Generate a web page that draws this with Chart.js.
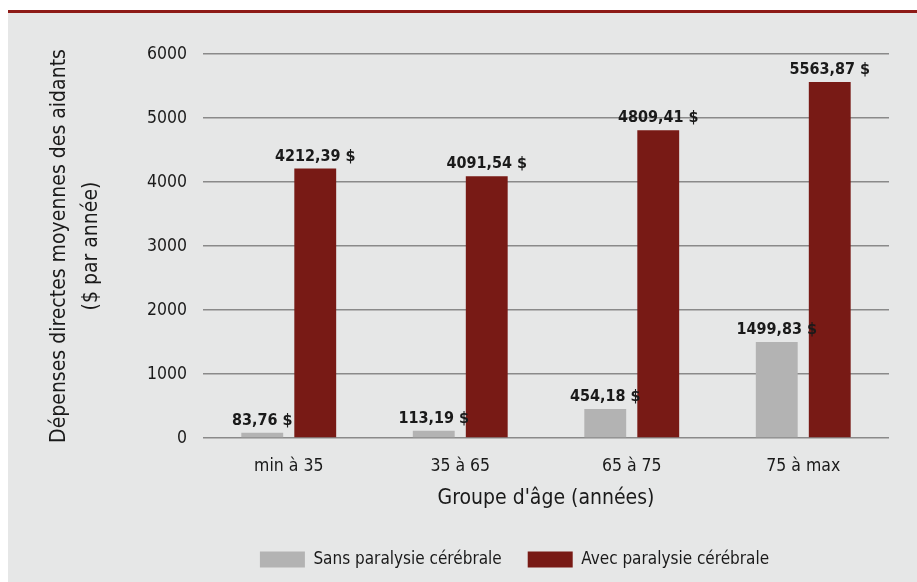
<!DOCTYPE html>
<html lang="fr">
<head>
<meta charset="utf-8">
<title>Dépenses directes moyennes des aidants</title>
<script src="https://cdn.jsdelivr.net/npm/chart.js@4.4.1/dist/chart.umd.min.js"></script>
<style>
  html, body { margin: 0; padding: 0; background: #fff; }
  #frame {
    position: absolute; left: 8px; top: 10px;
    width: 909px; height: 569px;
    border-top: 3px solid #8e1b17;
    background: #e6e7e7;
  }
  #frame canvas { display: block; }
</style>
</head>
<body>
<div id="frame"><canvas id="chart" width="909" height="569"></canvas></div>
<script>
// Données
const ageGroups = ['min à 35', '35 à 65', '65 à 75', '75 à max'];
const sansPC = [83.76, 113.19, 454.18, 1499.83];
const avecPC = [4212.39, 4091.54, 4809.41, 5563.87];
const seriesNames = ['Sans paralysie cérébrale', 'Avec paralysie cérébrale'];
const yTitle = ['Dépenses directes moyennes des aidants', '($ par année)'];
const xTitle = "Groupe d'âge (années)";

const FONT = '"Liberation Sans Narrow", "DejaVu Sans Condensed", "Liberation Sans", sans-serif';
const TEXT = '#1a1a1a';

function money(v) {
    return v.toFixed(2).replace('.', ',') + ' $';
}

// valeurs au-dessus des barres
const barValues = {
    id: 'barValues',
    afterDatasetsDraw(chart) {
        const ctx = chart.ctx;
        ctx.save();
        ctx.font = 'bold 16px ' + FONT;
        ctx.fillStyle = TEXT;
        ctx.textAlign = 'center';
        ctx.textBaseline = 'bottom';
        chart.data.datasets.forEach((ds, i) => {
            chart.getDatasetMeta(i).data.forEach((bar, j) => {
                ctx.fillText(money(ds.data[j]), bar.x, bar.y - 4);
            });
        });
        ctx.restore();
    }
};

// décale la légende vers la droite
const legendShift = {
    id: 'legendShift',
    afterLayout(chart) {
        const lg = chart.legend;
        if (lg) {
            lg.left += 66;
            lg.right += 66;
        }
    }
};

new Chart(document.getElementById('chart'), {
    type: 'bar',
    data: {
        labels: ageGroups,
        datasets: [
            {
                label: seriesNames[0],
                data: sansPC,
                backgroundColor: '#b3b3b3',
                categoryPercentage: 0.618,
                barPercentage: 0.79
            },
            {
                label: seriesNames[1],
                data: avecPC,
                backgroundColor: '#781a15',
                categoryPercentage: 0.618,
                barPercentage: 0.79
            }
        ]
    },
    options: {
        responsive: false,
        animation: false,
        devicePixelRatio: 1,
        layout: { padding: { top: 41, right: 28, bottom: 4, left: 0 } },
        plugins: {
            legend: {
                position: 'bottom',
                labels: {
                    boxWidth: 45,
                    boxHeight: 16,
                    padding: 26,
                    color: TEXT,
                    font: { family: FONT, size: 17 }
                }
            },
            tooltip: { enabled: false }
        },
        scales: {
            x: {
                afterFit(scale) { scale.height = 87; },
                grid: { display: false },
                border: { display: false },
                ticks: {
                    padding: 10,
                    color: TEXT,
                    font: { family: FONT, size: 17.5 }
                },
                title: {
                    display: true,
                    text: xTitle,
                    color: TEXT,
                    font: { family: FONT, size: 21, lineHeight: 1.2 },
                    padding: { top: 0, bottom: 14 }
                }
            },
            y: {
                min: 0,
                max: 6000,
                afterFit(scale) { scale.width = 195; },
                grid: { color: '#8a8a8a', lineWidth: 1.5, drawTicks: false },
                border: { display: false },
                ticks: {
                    stepSize: 1000,
                    padding: 16,
                    color: TEXT,
                    font: { family: FONT, size: 17.5 },
                    callback: v => String(v)
                },
                title: {
                    display: true,
                    text: yTitle,
                    color: TEXT,
                    font: { family: FONT, size: 21, lineHeight: 1.5 },
                    padding: { top: 36, bottom: 0 }
                }
            }
        }
    },
    plugins: [barValues, legendShift]
});
</script>
</body>
</html>
